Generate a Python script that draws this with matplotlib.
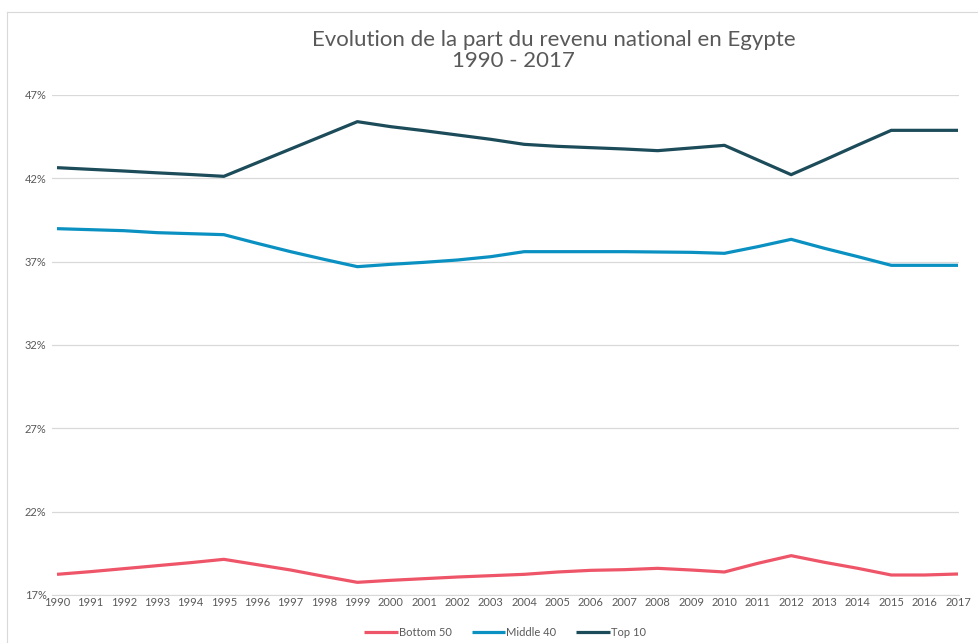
import matplotlib
matplotlib.use("Agg")
import matplotlib.pyplot as plt
from matplotlib.lines import Line2D
from matplotlib.ticker import FuncFormatter

years = list(range(1990, 2018))

bottom_50 = [18.24, 18.40, 18.58, 18.76, 18.94, 19.14, 18.82, 18.50, 18.12, 17.76,
             17.88, 17.98, 18.08, 18.16, 18.24, 18.38, 18.48, 18.52, 18.60, 18.50,
             18.38, 18.90, 19.36, 18.96, 18.60, 18.20, 18.20, 18.26]
middle_40 = [38.98, 38.92, 38.86, 38.74, 38.68, 38.62, 38.10, 37.60, 37.14, 36.70,
             36.84, 36.96, 37.10, 37.30, 37.60, 37.60, 37.60, 37.60, 37.58, 37.56,
             37.50, 37.90, 38.34, 37.80, 37.30, 36.78, 36.78, 36.78]
top_10 = [42.64, 42.54, 42.44, 42.33, 42.23, 42.12, 42.94, 43.76, 44.58, 45.40,
          45.10, 44.86, 44.60, 44.34, 44.04, 43.92, 43.84, 43.76, 43.66, 43.82,
          43.98, 43.10, 42.22, 43.10, 44.00, 44.88, 44.88, 44.88]

series_names = ["Bottom 50", "Middle 40", "Top 10"]
series_colors = ["#EF5568", "#0A91C2", "#1C4B5A"]
y_ticks = [17, 22, 27, 32, 37, 42, 47]

title_line1 = "Evolution de la part du revenu national en Egypte"
title_line2 = "1990 - 2017"

plt.rcParams["font.family"] = ["Lato", "DejaVu Sans"]
W, H = 979, 643
fig = plt.figure(figsize=(W / 100, H / 100), dpi=100)

# chart frame
fig.add_artist(Line2D([7 / W, 7 / W], [0, 1 - 12 / H], transform=fig.transFigure,
                      color="#d9d9d9", lw=0.8))
fig.add_artist(Line2D([7 / W, 1], [1 - 12 / H, 1 - 12 / H], transform=fig.transFigure,
                      color="#d9d9d9", lw=0.8))

ax = fig.add_axes([52 / W, 1 - 595 / H, (959 - 52) / W, (595 - 95) / H])
for vals, name, col in zip([bottom_50, middle_40, top_10], series_names, series_colors):
    ax.plot(years, vals, color=col, lw=2.3, label=name, solid_capstyle="butt")

ax.set_xlim(1989.85, 2017.03)
ax.set_ylim(17, 47)
ax.set_yticks(y_ticks)
ax.yaxis.set_major_formatter(FuncFormatter(lambda v, p: f"{v:.0f}%"))
ax.set_xticks(years)
ax.set_xticklabels([str(y) for y in years])
ax.grid(axis="y", color="#d9d9d9", lw=0.9)
ax.set_axisbelow(True)
for s in ["top", "right", "left"]:
    ax.spines[s].set_visible(False)
ax.spines["bottom"].set_color("#d9d9d9")
ax.tick_params(axis="both", length=0, colors="#595959", labelsize=8)
ax.tick_params(axis="y", pad=4)
ax.tick_params(axis="x", pad=1.5)

fig.text(554 / W, 1 - 40 / H, title_line1, ha="center", va="center",
         fontsize=16, color="#595959")
fig.text(513 / W, 1 - 61 / H, title_line2, ha="center", va="center",
         fontsize=16, color="#595959")

leg = ax.legend(loc="center", bbox_to_anchor=(505 / W, 1 - 632 / H),
                bbox_transform=fig.transFigure, ncol=3, frameon=False,
                fontsize=8, handlelength=3.0, handletextpad=0.1, columnspacing=1.8)
for t in leg.get_texts():
    t.set_color("#595959")

fig.savefig("out.png", dpi=100)
